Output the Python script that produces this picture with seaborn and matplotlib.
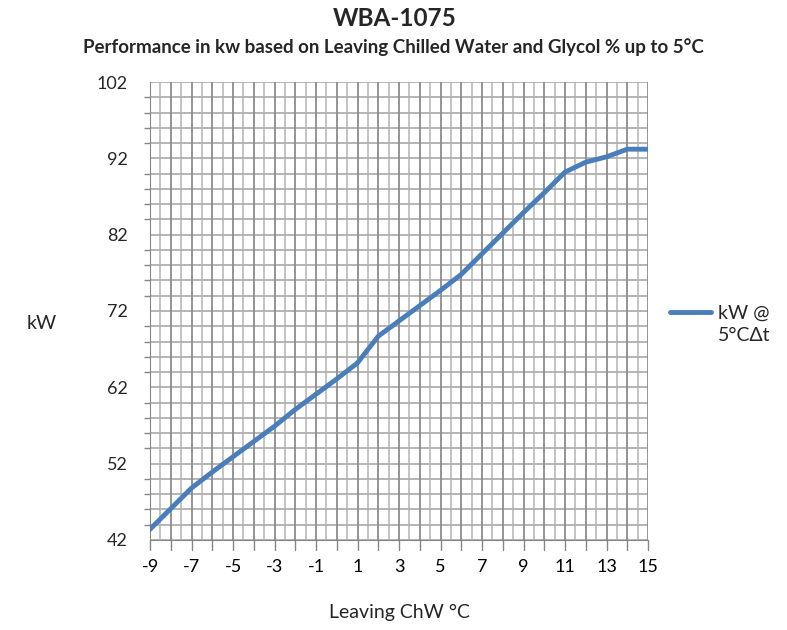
import numpy as np
import pandas as pd
import matplotlib
matplotlib.use('Agg')
import matplotlib.pyplot as plt
import seaborn as sns
from matplotlib.ticker import MultipleLocator

# leaving chilled water temperature (deg C) and capacity in kW
temp_c = [-9, -8, -7, -6, -5, -4, -3, -2, -1, 0, 1, 2, 3, 4, 5, 6, 7, 8, 9, 10, 11, 12, 13, 14, 15]
kw_values = [43.4, 46.1, 48.8, 50.9, 52.9, 54.9, 56.9, 59.1, 61.1, 63.1, 65.2, 68.7, 70.7, 72.7,
             74.7, 76.8, 79.5, 82.2, 84.9, 87.5, 90.2, 91.5, 92.2, 93.2, 93.2]
x_ticks = [-9, -7, -5, -3, -1, 1, 3, 5, 7, 9, 11, 13, 15]
y_ticks = [42, 52, 62, 72, 82, 92, 102]
series_name = 'kW @\n5°CΔt'

df = pd.DataFrame({'temp': temp_c, 'kw': kw_values, 'series': series_name})

sns.set_style('white')
plt.rcParams['font.family'] = ['Lato', 'DejaVu Sans']
plt.rcParams['axes.unicode_minus'] = False

fig = plt.figure(figsize=(7.87, 6.3), dpi=100)
ax = fig.add_axes([0.1906, 0.1429, 0.6328, 0.7269])

sns.lineplot(data=df, x='temp', y='kw', hue='series', palette=['#4a7ebb'],
             linewidth=3.5, ax=ax, legend=False, zorder=3)

ax.set_xlim(-9, 15)
ax.set_ylim(42, 102)
ax.set_xticks(x_ticks)
ax.xaxis.set_minor_locator(MultipleLocator(0.5))
ax.set_yticks(y_ticks)
ax.yaxis.set_minor_locator(MultipleLocator(2))

# grid: dark every unit in x, light half units; y every 2
for v in np.arange(-9, 15.01, 1):
    ax.axvline(v, color='#8c8c8c', lw=1.3, zorder=1)
for v in np.arange(-8.5, 15, 1):
    ax.axvline(v, color='#bfbfbf', lw=1.3, zorder=0.9)
for v in np.arange(42, 102.01, 2):
    ax.axhline(v, color='#b0b0b0', lw=1.3, zorder=0.9)

ax.tick_params(axis='x', which='major', length=0, labelsize=13, pad=14, colors='black')
ax.tick_params(axis='y', which='major', length=6, width=1, color='#868686', labelsize=13, pad=10)
ax.tick_params(axis='y', which='minor', length=4, width=1, color='#868686', left=True)
for v in temp_c:
    ax.plot([v, v], [0, -0.022], transform=ax.get_xaxis_transform(), color='#868686',
            lw=1, clip_on=False)

for s in ax.spines.values():
    s.set_visible(False)
ax.spines['left'].set_visible(True)
ax.spines['bottom'].set_visible(True)
ax.spines['left'].set_color('#868686')
ax.spines['bottom'].set_color('#868686')

ax.set_xlabel('')
ax.set_ylabel('')
fig.text(0.508, 0.028, 'Leaving ChW °C', ha='center', va='center', fontsize=14)
fig.text(0.053, 0.487, 'kW', ha='center', va='center', fontsize=14)

fig.text(0.502, 0.971, 'WBA-1075', ha='center', va='center', fontsize=17.5, fontweight='bold')
fig.text(0.5, 0.925, 'Performance in kw based on Leaving Chilled Water and Glycol % up to 5°C',
         ha='center', va='center', fontsize=13.5, fontweight='bold')

# legend drawn by hand to the right
fig.lines.append(plt.Line2D([0.851, 0.904], [0.505, 0.505], transform=fig.transFigure,
                            color='#4a7ebb', lw=3.5))
fig.text(0.912, 0.516, series_name, ha='left', va='top', fontsize=14, linespacing=1.35)

fig.savefig('out.png', dpi=100)
